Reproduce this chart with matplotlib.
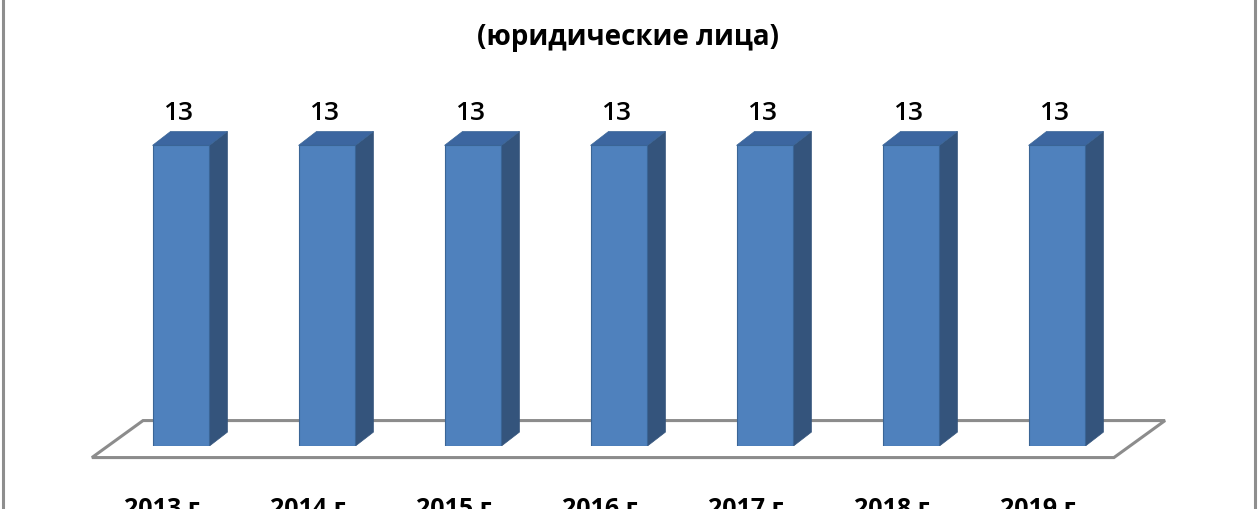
import matplotlib.pyplot as plt
from matplotlib.patches import Polygon, Rectangle

plt.rcParams['font.family'] = ['Open Sans', 'DejaVu Sans']

# data
years = ["2013 г.", "2014 г.", "2015 г.", "2016 г.", "2017 г.", "2018 г.", "2019 г."]
counts = [13, 13, 13, 13, 13, 13, 13]
subtitle = "(юридические лица)"

# colours
front_col = '#4F81BD'
top_col = '#3C66A0'
side_col = '#34547C'
edge_col = '#3A6596'

fig = plt.figure(figsize=(12.6, 5.1), dpi=100)
ax = fig.add_axes([108 / 1260, 63 / 510, 1022 / 1260, 370 / 510])
ax.set_xlim(-0.5, len(years) - 0.5)
ax.set_ylim(0, 16)
ax.axis('off')

# 3d depth of bars and floor (in data units)
bw = 0.39
dx, dy = 0.123, 0.6
fdx, fdy = 0.35, 1.6

# floor
n = len(years)
floor = Polygon([(-0.61, -0.5), (n - 0.61, -0.5),
                 (n - 0.61 + fdx, -0.5 + fdy), (-0.61 + fdx, -0.5 + fdy)],
                closed=True, facecolor='white', edgecolor='#8C8C8C',
                lw=2.2, clip_on=False, zorder=1)
ax.add_patch(floor)

bars = ax.bar(range(n), counts, width=bw, color=front_col,
              edgecolor=edge_col, linewidth=0.8, zorder=3)

for i, (b, v) in enumerate(zip(bars, counts)):
    x0 = b.get_x()
    x1 = x0 + b.get_width()
    side = Polygon([(x1, 0), (x1 + dx, dy), (x1 + dx, v + dy), (x1, v)],
                   closed=True, facecolor=side_col, edgecolor=side_col,
                   lw=0.5, zorder=2)
    top = Polygon([(x0, v), (x1, v), (x1 + dx, v + dy), (x0 + dx, v + dy)],
                  closed=True, facecolor=top_col, edgecolor=edge_col,
                  lw=0.5, zorder=2)
    ax.add_patch(side)
    ax.add_patch(top)
    ax.text(i - 0.02, v + dy + 0.3, str(v), ha='center', va='bottom',
            fontsize=19, fontweight='semibold', color='black')
    ax.text(i - 0.11, -2.15, years[i], ha='center', va='top',
            fontsize=18, fontweight='bold', color='black', clip_on=False)

fig.text(628 / 1260, 1 - 37 / 510, subtitle, ha='center', va='center',
         fontsize=20, fontweight='bold')

# chart frame (top and bottom are outside the picture)
fig.add_artist(Rectangle((2.5 / 1260, -0.1), 1252 / 1260, 1.2,
                         transform=fig.transFigure, fill=False,
                         edgecolor='#8E8E8E', lw=2.2))

fig.savefig('out.png', dpi=100)
